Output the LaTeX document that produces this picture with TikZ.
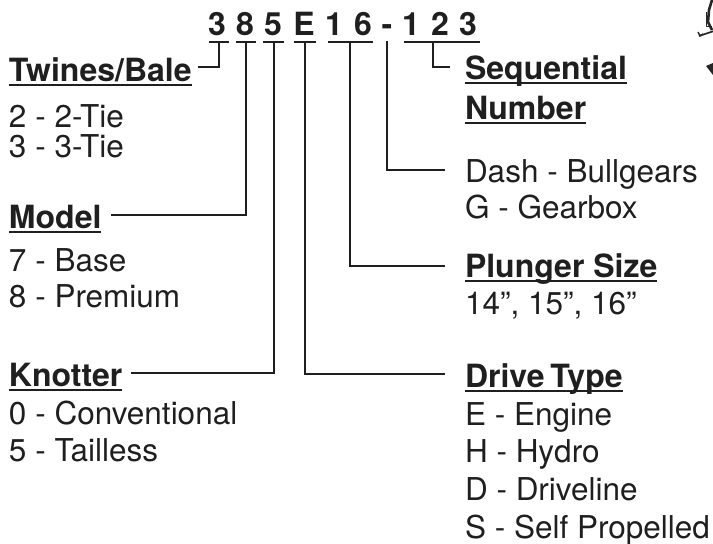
\documentclass[tikz,border=0pt]{standalone}
\usepackage{fontspec}
\setmainfont{TeX Gyre Heros}
\newlength{\hdw}
\newcommand{\hdul}[1]{\settowidth{\hdw}{#1}\rlap{#1}\rule[-4.5pt]{\hdw}{2pt}}
\tikzset{
  txt/.style={anchor=base west,inner sep=0pt,outer sep=0pt,font=\fontsize{31.5}{34}\selectfont,text=black!88},
  head/.style={txt,font=\fontsize{32}{34}\selectfont\bfseries},
  digit/.style={anchor=base,inner sep=0pt,outer sep=0pt,font=\fontsize{32}{34}\selectfont\bfseries,text=black!88},
  tie/.style={draw=black!88,line width=2pt},
  conn/.style={draw=black!88,line width=2pt,line cap=butt,line join=miter},
  art/.style={draw=black!85,line width=1pt,line join=round}
}
\begin{document}
\begin{tikzpicture}[x=1pt,y=-1pt]
\useasboundingbox (0,0) rectangle (713,544);
% code digits
\node[digit] (d1) at (217,35) {3};
\node[digit] (d2) at (245,35) {8};
\node[digit] (d3) at (273,35) {5};
\node[digit] (d4) at (304,35) {E};
\node[digit] (d5) at (334,35) {1};
\node[digit] (d6) at (363,35) {6};
\node[digit] (d7) at (387,35) {-};
\node[digit] (d8) at (411,35) {1};
\node[digit] (d9) at (440,35) {2};
\node[digit] (d10) at (468,35) {3};
% labels
\node[head] (twines) at (9,81) {\hdul{Twines/Bale}};
\node[txt] at (9,127) {2 - 2-Tie};
\node[txt] at (9,157) {3 - 3-Tie};
\node[head] (model) at (9,228) {\hdul{Model}};
\node[txt] at (9,271) {7 - Base};
\node[txt] at (9,307) {8 - Premium};
\node[head] (knotter) at (9,386) {\hdul{Knotter}};
\node[txt] at (9,424) {0 - Conventional};
\node[txt] at (9,461) {5 - Tailless};
\node[head] (seq) at (465,79) {\hdul{Sequential}};
\node[head] (num) at (465,119) {\hdul{Number}};
\node[txt] (dash) at (465,182) {Dash - Bullgears};
\node[txt] at (465,218) {G - Gearbox};
\node[head] (plunger) at (465,277) {\hdul{Plunger Size}};
\node[txt] at (465,314) {14”, 15”, 16”};
\node[head] (drive) at (465,387) {\hdul{Drive\kern-3pt\ Type}};
\node[txt] at (465,425) {E - Engine};
\node[txt] at (465,462) {H - Hydro};
\node[txt] at (465,500) {D - Driveline};
\node[txt] at (465,538) {S - Self Propelled};
% bracket ends
\coordinate (u1a) at (209,42); \coordinate (u1b) at (229,42);
\coordinate (u2a) at (236,42); \coordinate (u2b) at (256,42);
\coordinate (u3a) at (263,42); \coordinate (u3b) at (284,42);
\coordinate (u4a) at (294,42); \coordinate (u4b) at (316,42);
\coordinate (u5a) at (328,42); \coordinate (u5b) at (373,42);
\coordinate (u8a) at (404,42); \coordinate (u8b) at (480,42);
\draw[tie] (u1a) -- (u1b);
\draw[tie] (u2a) -- (u2b);
\draw[tie] (u3a) -- (u3b);
\draw[tie] (u4a) -- (u4b);
\draw[tie] (u5a) -- (u5b);
\draw[tie] (u8a) -- (u8b);
% connectors
\coordinate (e1) at (198,67);
\draw[conn] (219,42) -- (219,67) -- (e1);
\coordinate (e2) at (111,215);
\draw[conn] (246,42) -- (246,215) -- (e2);
\coordinate (e3) at (131,373);
\draw[conn] (273.5,42) -- (273.5,373) -- (e3);
\coordinate (e4) at (445,374);
\draw[conn] (304.5,42) -- (304.5,374) -- (e4);
\coordinate (e5) at (445,266);
\draw[conn] (350,42) -- (350,266) -- (e5);
\coordinate (e6) at (445,170);
\draw[conn] (387,41) -- (387,170) -- (e6);
\coordinate (e7) at (450,67);
\draw[conn] (433,42) -- (433,67) -- (e7);
% clipped artwork at top right
\begin{scope}
\clip (690,0) rectangle (713,90);
\draw[art,line width=2.6pt] (712,0) -- (709,10) -- (708,22) -- (712,30);
\draw[art] (706,12) -- (706,26) -- (712,26);
\draw[art,line width=1.6pt] (699,36) -- (714,31);
\draw[art,line width=1.4pt] (698,32) -- (700,36) -- (703,34);
\fill[black!85] (706,66) -- (713,63) -- (713,75) -- cycle;
\end{scope}
\end{tikzpicture}
\end{document}
